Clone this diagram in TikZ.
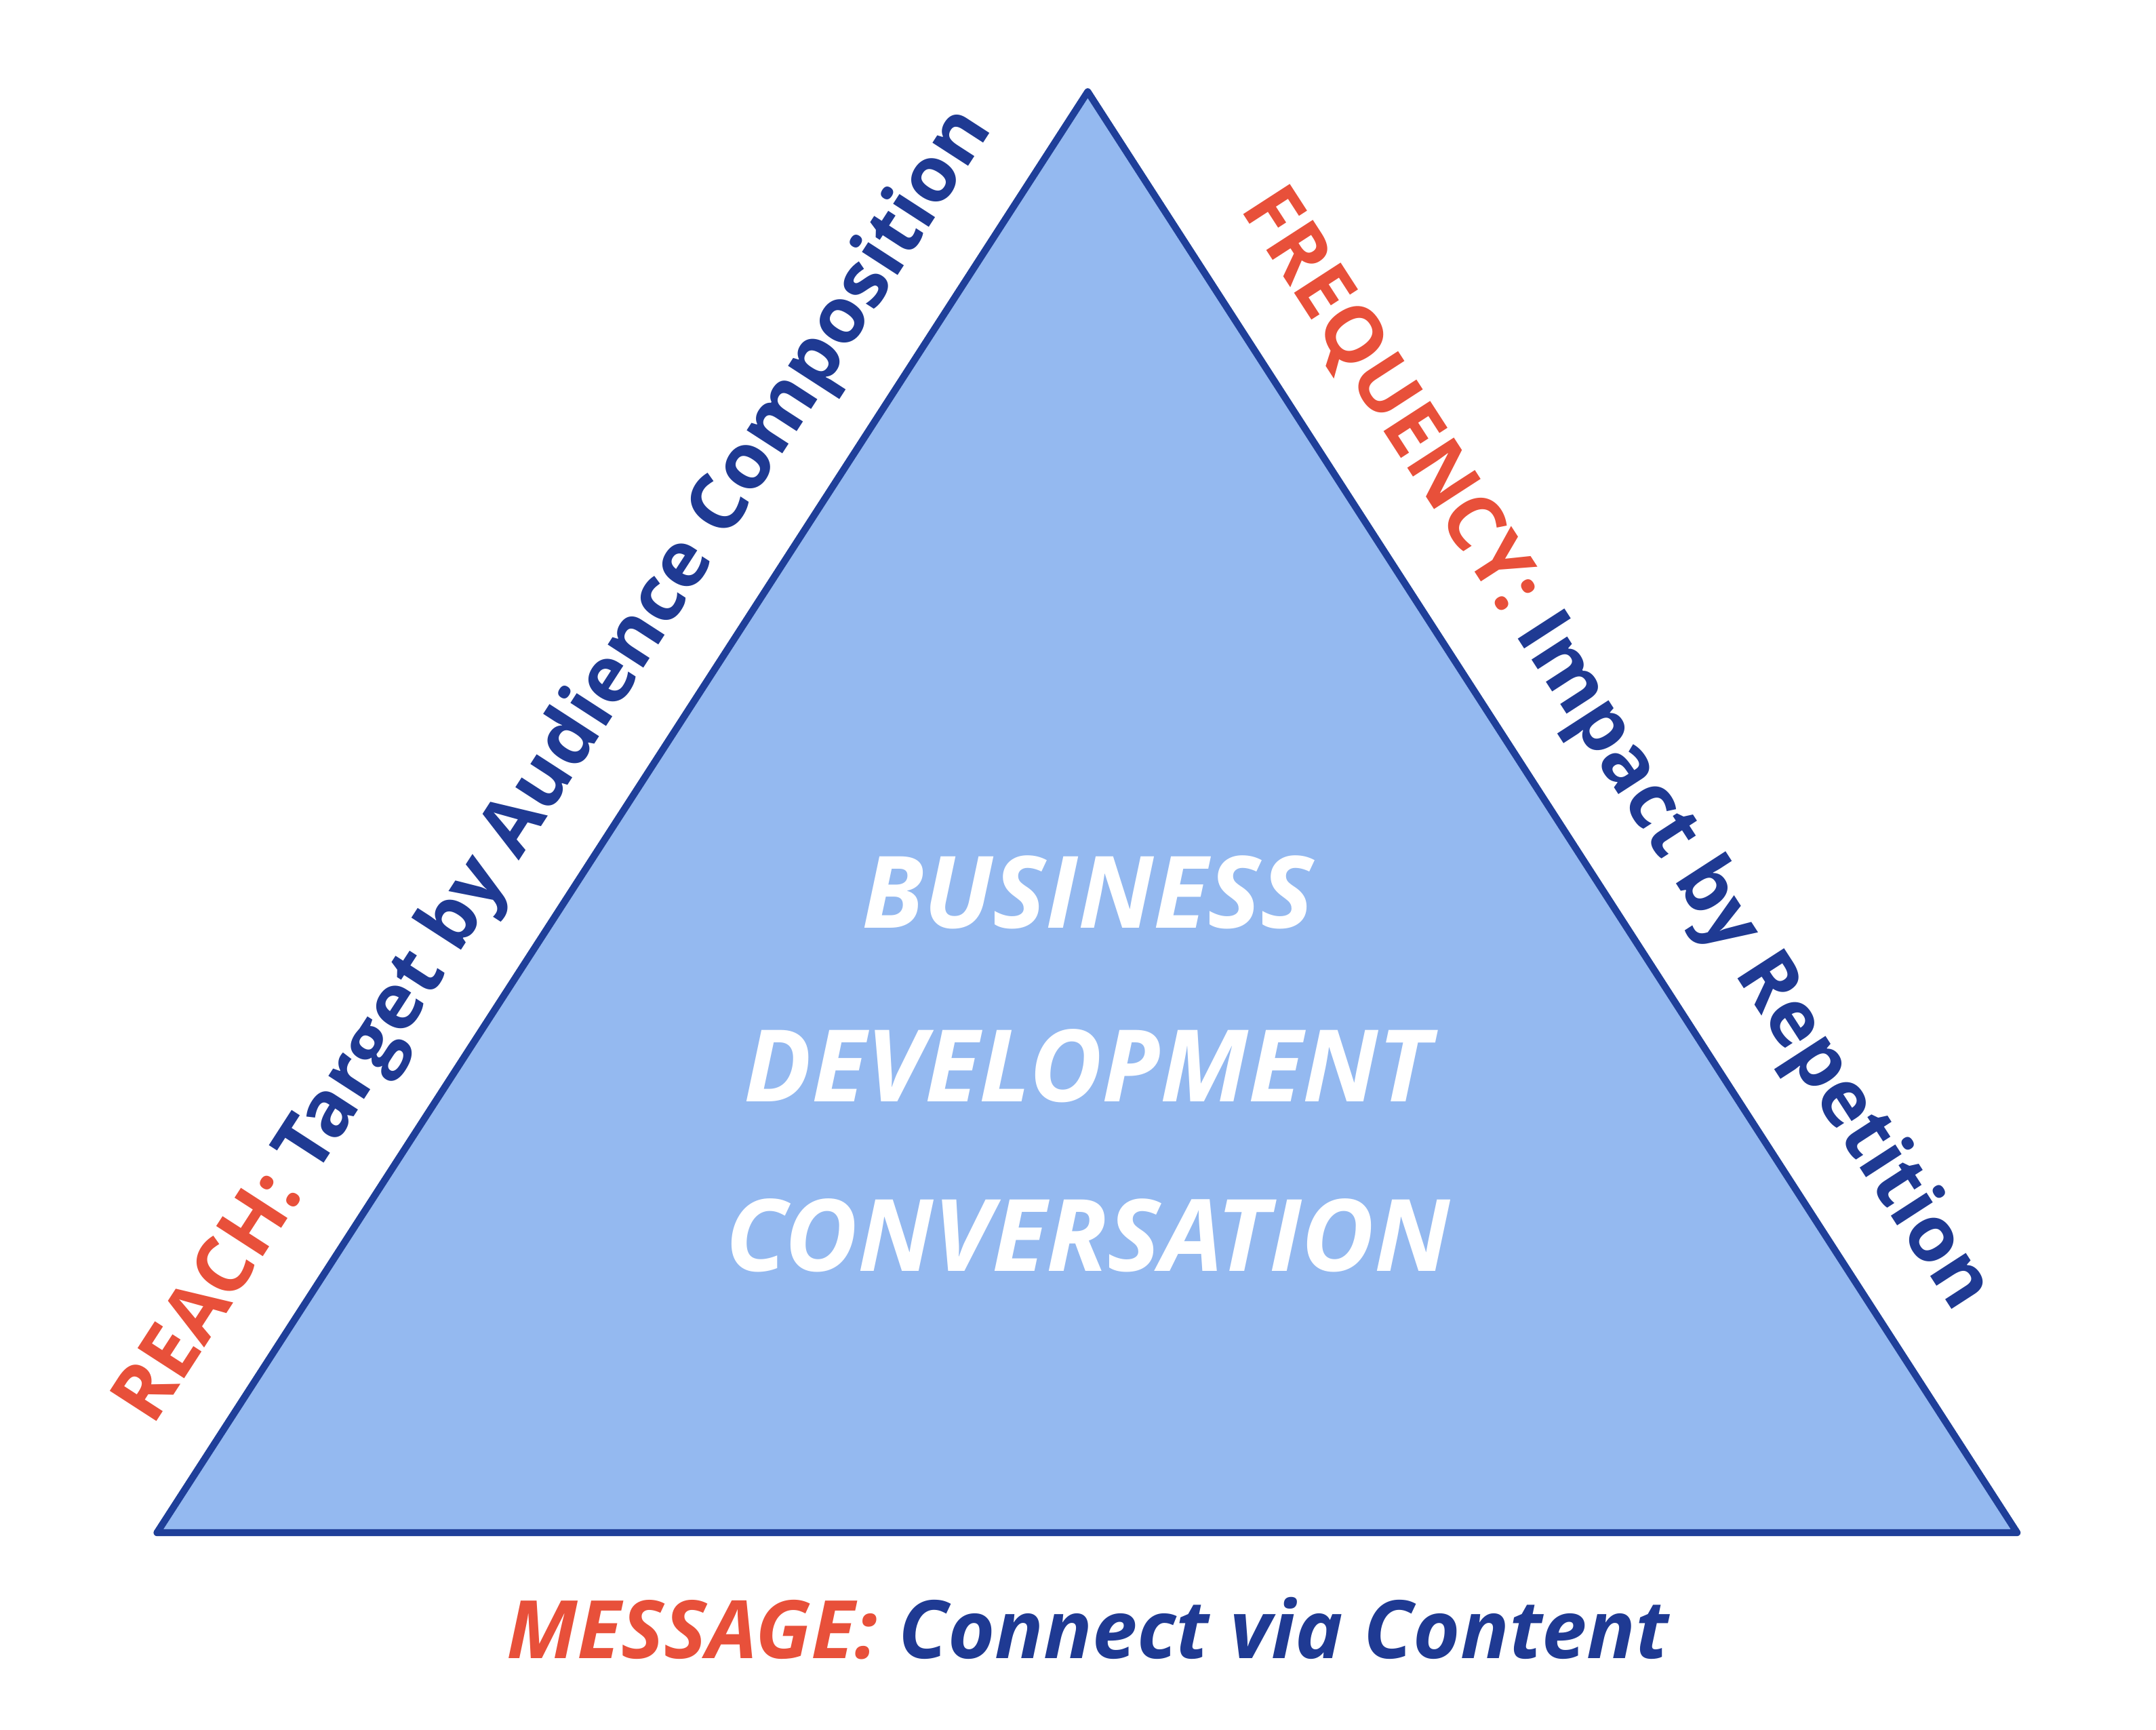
\documentclass[tikz,border=0pt]{standalone}
\usepackage{fontspec}
\setmainfont{Open Sans}
\definecolor{tfill}{HTML}{94B9F0}
\definecolor{tline}{HTML}{1F3F99}
\definecolor{tred}{HTML}{E8503A}
\definecolor{tblue}{HTML}{1F3A93}
\begin{document}
\begin{tikzpicture}[x=1pt,y=-1pt,
  lbl/.style={font=\fontsize{56}{56}\selectfont\bfseries, inner sep=0pt},
  ctr/.style={font=\fontsize{72}{72}\selectfont\bfseries\itshape, text=white, inner sep=0pt}]
\useasboundingbox (0,0) rectangle (1552,1245);
\coordinate (A) at (783,66);
\coordinate (B) at (113,1103);
\coordinate (C) at (1452,1103);
\draw[line width=5pt, line join=round, draw=tline, fill=tfill] (A) -- (B) -- (C) -- cycle;
\node[ctr] (t1) at (783,642) {BUSINESS};
\node[ctr] (t2) at (783,767) {DEVELOPMENT};
\node[ctr] (t3) at (783,889) {CONVERSATION};
\node[lbl, rotate=57.1] (l) at (400,552) {\textcolor{tred}{REACH:} \textcolor{tblue}{Target by Audience Composition}};
\node[lbl, rotate=-57.1] (r) at (1162,540) {\textcolor{tred}{FREQUENCY:} \textcolor{tblue}{Impact by Repetition}};
\node[lbl, font=\fontsize{58}{58}\selectfont\bfseries\itshape] (b) at (783,1172) {\textcolor{tred}{MESSAGE:} \textcolor{tblue}{Connect via Content}};
\end{tikzpicture}
\end{document}
